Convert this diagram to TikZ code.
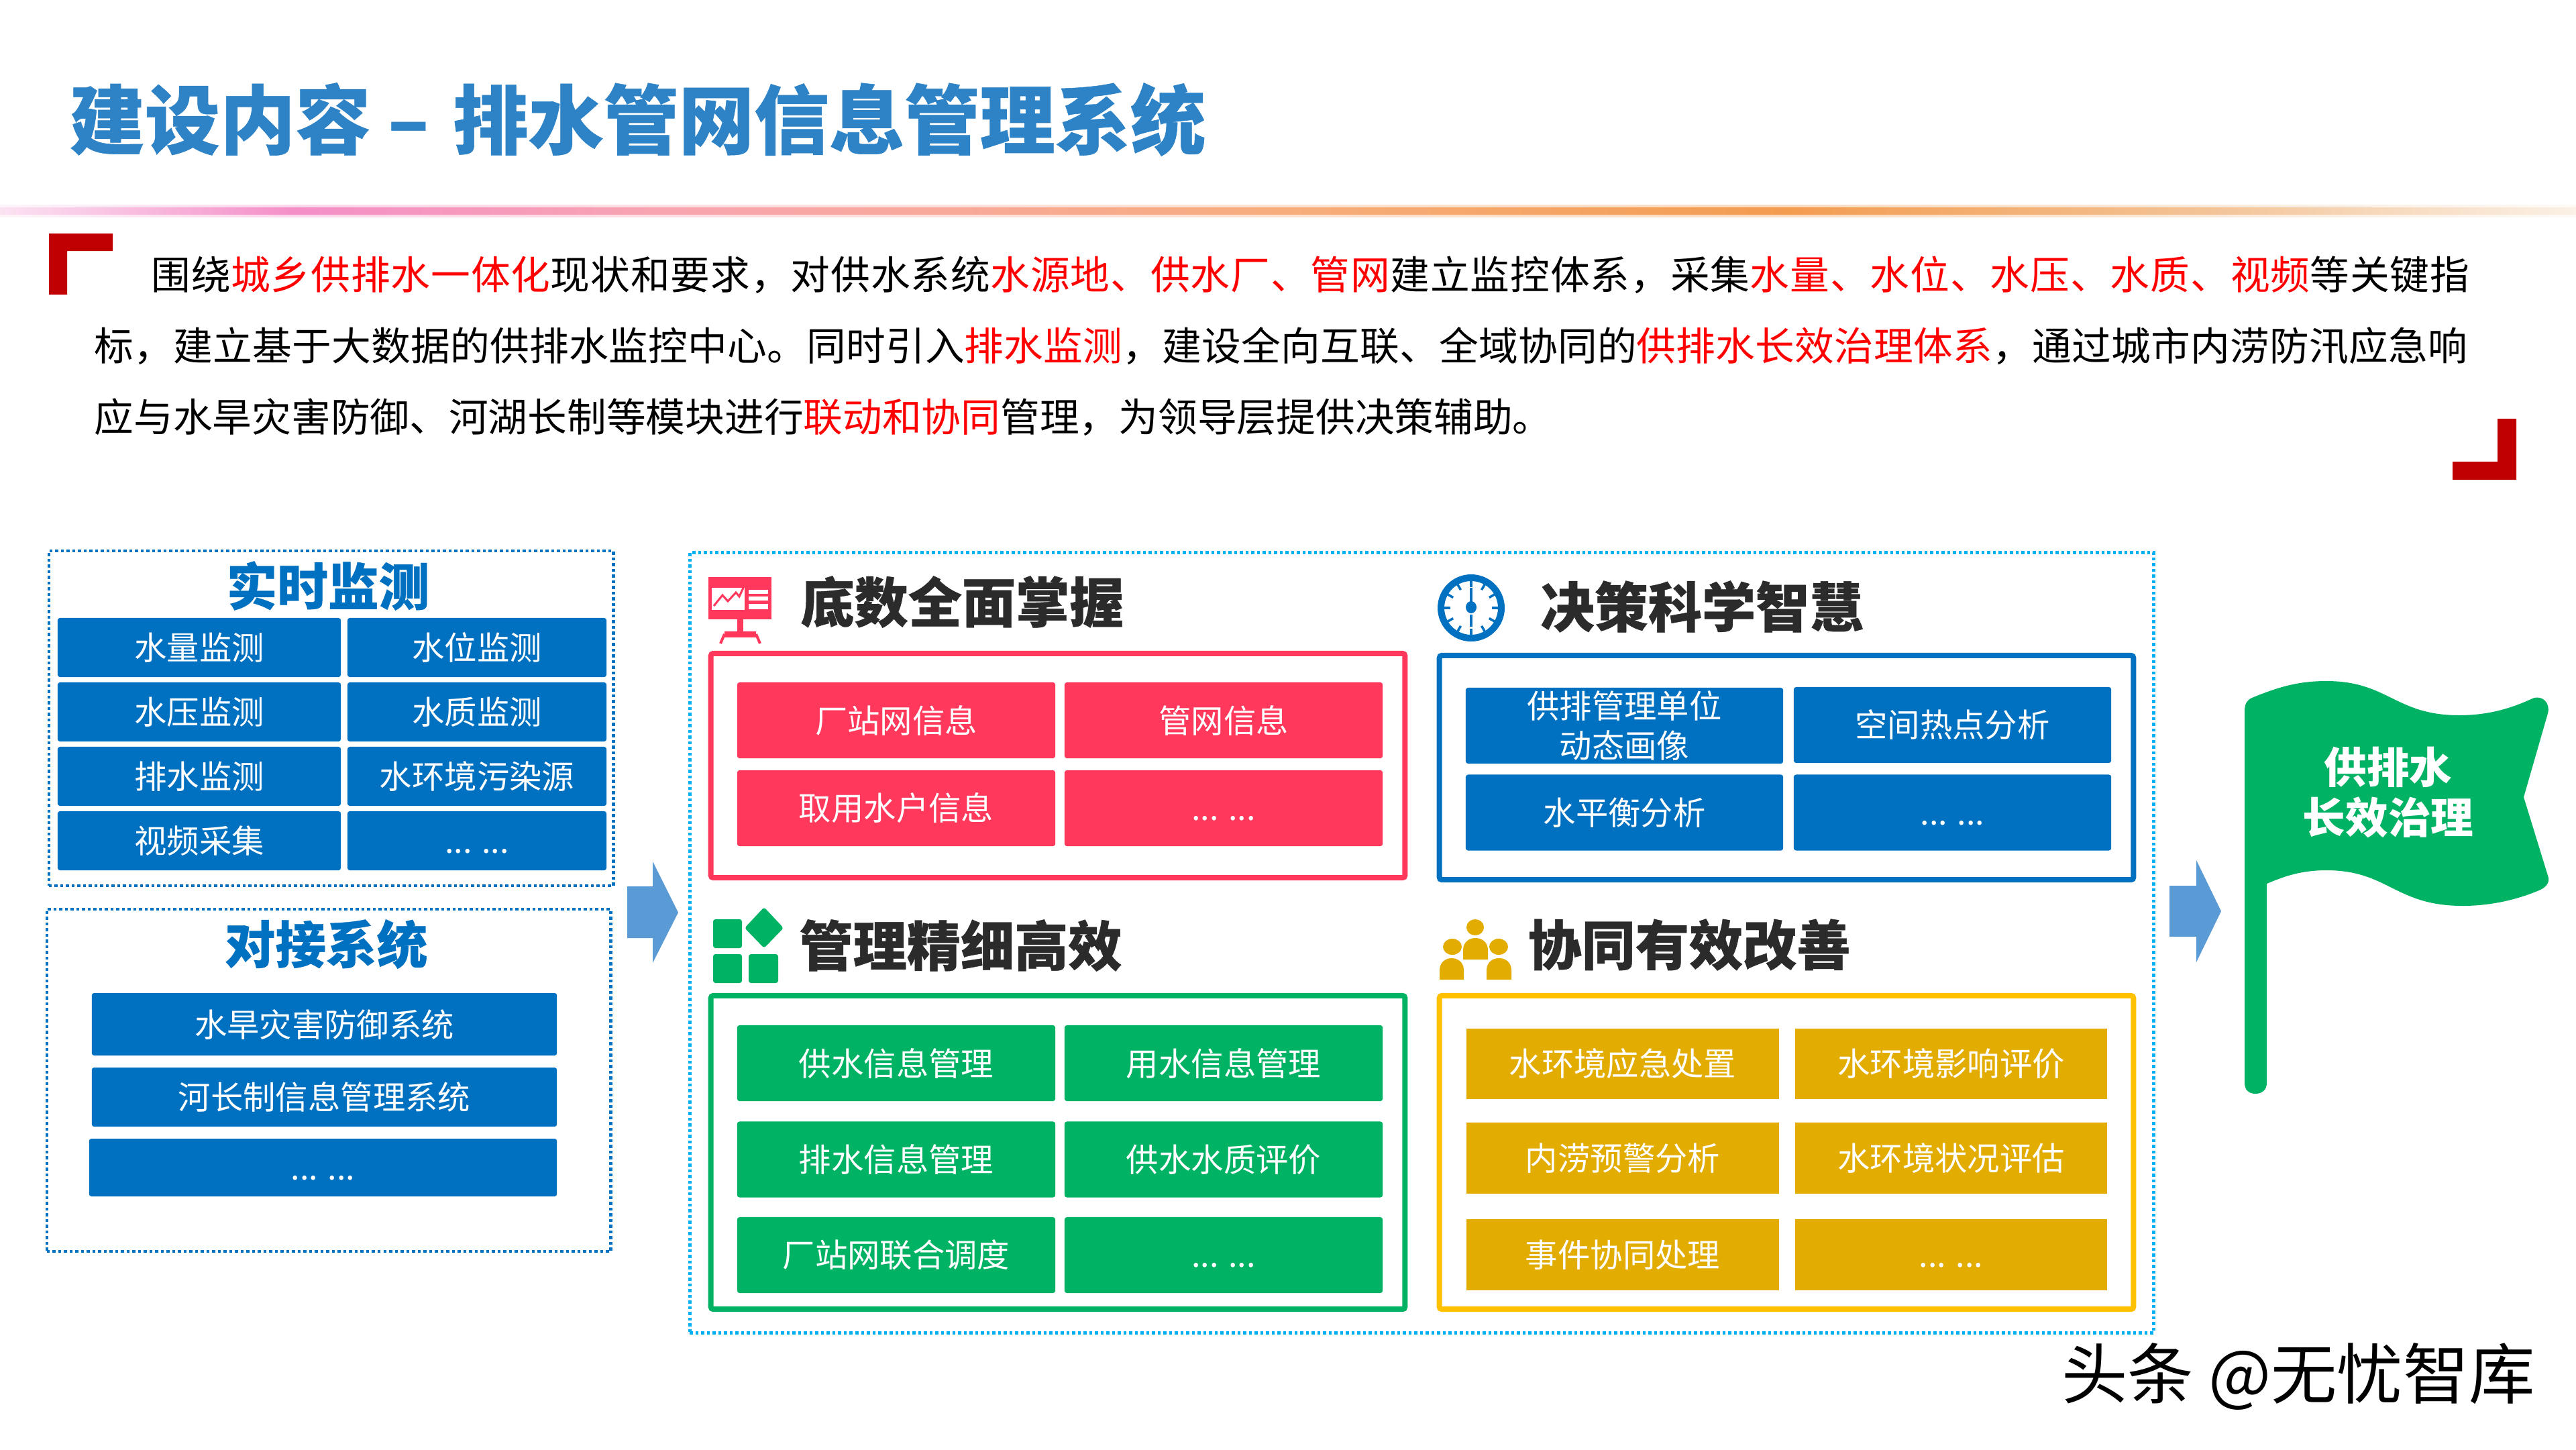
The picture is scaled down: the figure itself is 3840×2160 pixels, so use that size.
\documentclass[tikz,border=0pt]{standalone}
\usepackage{fontspec}
\setmainfont{Noto Sans CJK SC}
\usepackage{tikz}
\usetikzlibrary{shapes,positioning}

\definecolor{titleblue}{HTML}{2E83C6}
\definecolor{keyred}{HTML}{FF0000}
\definecolor{cornerred}{HTML}{C00000}
\definecolor{rosered}{HTML}{FF385C}
\definecolor{deepblue}{HTML}{0070C0}
\definecolor{skyblue}{HTML}{00B0F0}
\definecolor{leafgreen}{HTML}{00B264}
\definecolor{goldfill}{HTML}{E2AC00}
\definecolor{goldline}{HTML}{FFC000}
\definecolor{arrowblue}{HTML}{5B9BD5}
\definecolor{headdark}{HTML}{2B2B2B}
\definecolor{fadeA}{HTML}{FBE3F2}
\definecolor{fadeB}{HTML}{F48FC8}
\definecolor{fadeC}{HTML}{F8A5B0}
\definecolor{fadeD}{HTML}{F7AE7C}
\definecolor{fadeE}{HTML}{F39C50}
\definecolor{fadeF}{HTML}{F3C498}
\definecolor{fadeG}{HTML}{FBF1E6}

\pgfdeclarehorizontalshading{rulefade}{100bp}{
    color(0bp)=(fadeA);
    color(25bp)=(fadeA);
    color(30.7bp)=(fadeB);
    color(38bp)=(fadeC);
    color(50bp)=(fadeD);
    color(59.7bp)=(fadeE);
    color(68bp)=(fadeF);
    color(75bp)=(fadeG);
    color(100bp)=(fadeG)}

\newcommand{\moredots}{\vphantom{水}... ...}

\tikzset{
    btn/.style={rectangle,rounded corners=1pt,inner sep=0pt,text=white,align=center,
        font=\fontsize{13.75}{16.8}\selectfont},
    monbtn/.style={btn,fill=deepblue,minimum height=0.88cm},
    linkbtn/.style={btn,fill=deepblue},
    redbtn/.style={btn,fill=rosered,minimum width=4.74cm,minimum height=1.13cm},
    bluebtn/.style={btn,fill=deepblue,minimum width=4.73cm,minimum height=1.13cm},
    greenbtn/.style={btn,fill=leafgreen,minimum width=4.74cm,minimum height=1.13cm},
    goldbtn/.style={btn,sharp corners,fill=goldfill,minimum height=1.055cm},
    panel/.style={rectangle,draw=#1,line width=0.08cm,minimum width=10.34cm,inner sep=0pt,rounded corners=1pt},
    dotbox/.style={rectangle,draw=#1,line width=0.045cm,dash pattern=on 0.045cm off 0.04cm,inner sep=0pt},
    heading/.style={inner sep=0pt,text=headdark,font=\fontsize{22.8}{26}\selectfont\bfseries\addfontfeature{FakeBold=0.5}},
    lefthead/.style={inner sep=0pt,text=deepblue,font=\fontsize{21.5}{24}\selectfont\bfseries\addfontfeature{FakeBold=0.5}},
    bodyline/.style={anchor=west,inner sep=0pt,font=\fontsize{16.7}{20}\selectfont},
    bigarrow/.style={fill=arrowblue}
}

\begin{document}
\begin{tikzpicture}[x=0.01cm,y=-0.01cm]
    \useasboundingbox (0,0) rectangle (3840,2160);
    \fill[white] (0,0) rectangle (3840,2160);

    \node[anchor=west,inner sep=0pt,text=titleblue,font=\fontsize{31.9}{36}\selectfont\bfseries\addfontfeature{FakeBold=0.5}] (Title) at (103,178) {建设内容 – \hspace{0.1cm}排水管网信息管理系统};
    \shade[shading=rulefade,opacity=0.35] (0,305) rectangle (3840,323);
    \shade[shading=rulefade] (0,309) rectangle (3840,319);

    \fill[cornerred] (73,348) -- (168,348) -- (168,374) -- (100,374) -- (100,439) -- (73,439) -- cycle;
    \fill[cornerred] (3751,624) -- (3751,715) -- (3656,715) -- (3656,688) -- (3723,688) -- (3723,624) -- cycle;

    \node[bodyline,font=\fontsize{16.7}{20}\selectfont\addfontfeature{LetterSpace=1.65}] (Line1) at (225,410) {围绕\textcolor{keyred}{城乡供排水一体化}现状和要求，对供水系统\textcolor{keyred}{水源地、供水厂、管网}建立监控体系，采集\textcolor{keyred}{水量、水位、水压、水质、视频}等关键指};
    \node[bodyline,font=\fontsize{16.7}{20}\selectfont\addfontfeature{LetterSpace=0.42}] (Line2) at (140,516) {标，建立基于大数据的供排水监控中心。同时引入\textcolor{keyred}{排水监测}，建设全向互联、全域协同的\textcolor{keyred}{供排水长效治理体系}，通过城市内涝防汛应急响};
    \node[bodyline] (Line3) at (140,622) {应与水旱灾害防御、河湖长制等模块进行\textcolor{keyred}{联动和协同}管理，为领导层提供决策辅助。};

    \node[dotbox=deepblue,minimum width=8.41cm,minimum height=4.99cm] (Monitor) at (493.5,1070.5) {};
    \node[lefthead] (MonitorHead) at (489,873) {实时监测};
    \node[monbtn,minimum width=4.22cm] (M1) at (297,965) {水量监测};
    \node[monbtn,minimum width=3.86cm] (M2) at (711,965) {水位监测};
    \node[monbtn,minimum width=4.22cm] (M3) at (297,1061) {水压监测};
    \node[monbtn,minimum width=3.86cm] (M4) at (711,1061) {水质监测};
    \node[monbtn,minimum width=4.22cm] (M5) at (297,1157) {排水监测};
    \node[monbtn,minimum width=3.86cm] (M6) at (711,1157) {水环境污染源};
    \node[monbtn,minimum width=4.22cm] (M7) at (297,1253) {视频采集};
    \node[monbtn,minimum width=3.86cm] (M8) at (711,1253) {\moredots};

    \node[dotbox=deepblue,minimum width=8.40cm,minimum height=5.10cm] (Link) at (490,1610) {};
    \node[lefthead] (LinkHead) at (486,1407) {对接系统};
    \node[linkbtn,minimum width=6.93cm,minimum height=0.93cm] (L1) at (483.5,1526.5) {水旱灾害防御系统};
    \node[linkbtn,minimum width=6.93cm,minimum height=0.88cm] (L2) at (483.5,1635) {河长制信息管理系统};
    \node[linkbtn,minimum width=6.97cm,minimum height=0.86cm] (L3) at (481.5,1740) {\moredots};

    \fill[bigarrow] (935,1321) -- (973,1321) -- (973,1284) -- (1011,1360) -- (973,1435) -- (973,1398) -- (935,1398) -- cycle;

    \node[dotbox=skyblue,minimum width=21.81cm,minimum height=11.62cm] (Outer) at (2119.5,1405) {};

    % red block
    \fill[rosered] (1056,860) rectangle (1150,923);
    \fill[white] (1061,876) rectangle (1110,909);
    \fill[white] (1116,879) rectangle (1145,885);
    \fill[white] (1116,889) rectangle (1145,895);
    \fill[white] (1116,900) rectangle (1145,908);
    \draw[rosered,line width=0.03cm] (1064,903) -- (1077,887) -- (1085,896) -- (1097,883) -- (1102,889) -- (1108,876);
    \fill[rosered] (1099,923) rectangle (1108,941);
    \fill[rosered] (1080,941) rectangle (1127,950);
    \draw[rosered,line width=0.04cm] (1080,945) -- (1074,959);
    \draw[rosered,line width=0.04cm] (1127,945) -- (1133,959);
    \node[heading] (RedHead) at (1434,897) {底数全面掌握};
    \node[panel=rosered,minimum height=3.34cm] (RedPanel) at (1577,1141) {};
    \node[redbtn] (R1) at (1336,1073.5) {厂站网信息};
    \node[redbtn] (R2) at (1824,1073.5) {管网信息};
    \node[redbtn] (R3) at (1336,1204.5) {取用水户信息};
    \node[redbtn] (R4) at (1824,1204.5) {\moredots};

    % blue block
    \draw[deepblue,line width=0.1cm] (2193,906) circle (45);
    \foreach \a in {0,30,...,330}
        \draw[deepblue,line width=0.035cm,shift={(2193,906)}] (\a:31) -- (\a:41);
    \draw[deepblue,line width=0.035cm] (2193,876) -- (2193,905);
    \draw[deepblue,line width=0.035cm] (2193,916) -- (2193,934);
    \fill[deepblue] (2193,905) ellipse (8 and 9);
    \node[heading] (BlueHead) at (2537,904) {决策科学智慧};
    \node[panel=deepblue,minimum height=3.34cm] (BluePanel) at (2663,1144) {};
    \node[bluebtn] (B1) at (2421.5,1081.5) {供排管理单位\\动态画像};
    \node[bluebtn] (B2) at (2910.5,1080.5) {空间热点分析};
    \node[bluebtn] (B3) at (2421.5,1211) {水平衡分析};
    \node[bluebtn] (B4) at (2910.5,1211) {\moredots};

    % green block
    \fill[leafgreen,rounded corners=1pt] (1063,1370) rectangle (1106,1413);
    \fill[leafgreen,rounded corners=1pt] (1063,1422) rectangle (1106,1465);
    \fill[leafgreen,rounded corners=1pt] (1116,1422) rectangle (1160,1465);
    \fill[leafgreen,rounded corners=1pt] (1139,1352) -- (1168,1383) -- (1139,1413) -- (1110,1383) -- cycle;
    \node[heading] (GreenHead) at (1432,1409) {管理精细高效};
    \node[panel=leafgreen,minimum height=4.67cm] (GreenPanel) at (1577,1717.5) {};
    \node[greenbtn] (G1) at (1336,1584.5) {供水信息管理};
    \node[greenbtn] (G2) at (1824,1584.5) {用水信息管理};
    \node[greenbtn] (G3) at (1336,1728) {排水信息管理};
    \node[greenbtn] (G4) at (1824,1728) {供水水质评价};
    \node[greenbtn] (G5) at (1336,1870.5) {厂站网联合调度};
    \node[greenbtn] (G6) at (1824,1870.5) {\moredots};

    % gold block
    \fill[goldfill] (2199,1382) ellipse (13 and 12);
    \fill[goldfill] (2165,1411) ellipse (14 and 12);
    \fill[goldfill] (2234,1411) ellipse (14 and 12);
    \fill[goldfill] (2181,1430) -- (2181,1416) .. controls (2181,1404) and (2190,1398) .. (2199.5,1398) .. controls (2209,1398) and (2218,1404) .. (2218,1416) -- (2218,1430) -- cycle;
    \fill[goldfill] (2146,1460) -- (2146,1446) .. controls (2146,1434) and (2155,1428) .. (2164,1428) .. controls (2173,1428) and (2182,1434) .. (2182,1446) -- (2182,1460) -- cycle;
    \fill[goldfill] (2216,1460) -- (2216,1446) .. controls (2216,1434) and (2225,1428) .. (2234.5,1428) .. controls (2244,1428) and (2253,1434) .. (2253,1446) -- (2253,1460) -- cycle;
    \node[heading] (GoldHead) at (2518,1408) {协同有效改善};
    \node[panel=goldline,minimum height=4.67cm] (GoldPanel) at (2663,1717.5) {};
    \node[goldbtn,minimum width=4.66cm] (O1) at (2419,1585.5) {水环境应急处置};
    \node[goldbtn,minimum width=4.65cm] (O2) at (2908.5,1585.5) {水环境影响评价};
    \node[goldbtn,minimum width=4.66cm] (O3) at (2419,1726) {内涝预警分析};
    \node[goldbtn,minimum width=4.65cm] (O4) at (2908.5,1726) {水环境状况评估};
    \node[goldbtn,minimum width=4.66cm] (O5) at (2419,1870) {事件协同处理};
    \node[goldbtn,minimum width=4.65cm] (O6) at (2908.5,1870) {\moredots};

    \fill[bigarrow] (3234,1320) -- (3274,1320) -- (3274,1282) -- (3311,1358) -- (3274,1434) -- (3274,1396) -- (3234,1396) -- cycle;

    \fill[leafgreen] (3346,1060) .. controls (3346,1048) and (3350,1043) .. (3357,1040)
        .. controls (3400,1022) and (3430,1015) .. (3468,1015)
        .. controls (3560,1015) and (3570,1066) .. (3666,1066)
        .. controls (3710,1066) and (3745,1055) .. (3775,1041)
        .. controls (3790,1035) and (3802,1048) .. (3798,1063)
        -- (3762,1188) -- (3798,1305)
        .. controls (3802,1315) and (3795,1322) .. (3787,1326)
        .. controls (3750,1342) and (3710,1350) .. (3671,1350)
        .. controls (3570,1350) and (3560,1297) .. (3468,1297)
        .. controls (3430,1297) and (3405,1306) .. (3379,1317)
        -- (3379,1614) .. controls (3379,1624) and (3372,1630) .. (3362,1630)
        .. controls (3352,1630) and (3346,1624) .. (3346,1614) -- cycle;
    \node[inner sep=0pt,text=white,align=center,font=\fontsize{18.1}{21.6}\selectfont\bfseries] (FlagText) at (3560,1181) {供排水\\长效治理};

    \node[inner sep=0pt,text=black,font=\fontsize{28}{32}\selectfont] (Mark) at (3426,2051) {头条 @无忧智库};
\end{tikzpicture}
\end{document}
